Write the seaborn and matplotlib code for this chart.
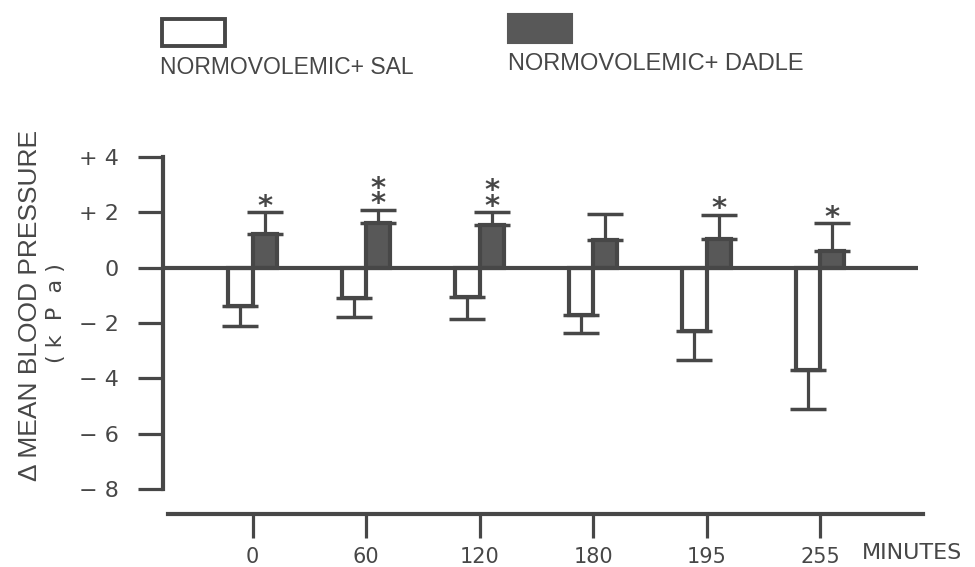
import numpy as np
import pandas as pd
import matplotlib
matplotlib.use("Agg")
import matplotlib.pyplot as plt
import matplotlib.patches as mpatches
import seaborn as sns

# --- data -------------------------------------------------------------
times = ["0", "60", "120", "180", "195", "255"]
groups = ["NORMOVOLEMIC+ SAL", "NORMOVOLEMIC+ DADLE"]

sal_mean = [-1.4, -1.1, -1.05, -1.7, -2.3, -3.7]
sal_sem = [0.7, 0.7, 0.8, 0.65, 1.05, 1.4]
dadle_mean = [1.2, 1.6, 1.55, 1.0, 1.05, 0.6]
dadle_sem = [0.8, 0.5, 0.45, 0.95, 0.85, 1.0]
n_stars = [1, 2, 2, 0, 1, 1]   # significance marks above the DADLE bars

y_ticks = [-8, -6, -4, -2, 0, 2, 4]
y_tick_labels = ["\u2212 8", "\u2212 6", "\u2212 4", "\u2212 2", "0", "+ 2", "+ 4"]
y_label = "\u0394 MEAN BLOOD PRESSURE"
y_unit = "( k  P  a )"
x_unit = "MINUTES"

# --- style ------------------------------------------------------------
sns.set_theme(style="white")
plt.rcParams["font.family"] = ["DejaVu Sans"]
INK = "#474747"
FILL = "#585858"
LABEL_FONT = ["Liberation Sans", "DejaVu Sans"]

df = pd.DataFrame({
    "time": times * 2,
    "group": [groups[0]] * len(times) + [groups[1]] * len(times),
    "value": sal_mean + dadle_mean,
})

fig = plt.figure(figsize=(9.75, 5.67), dpi=100)
ax = fig.add_axes([163 / 975, 1 - 489 / 567, (923 - 163) / 975, 332 / 567])

sns.barplot(data=df, x="time", y="value", hue="group", order=times,
            hue_order=groups, palette={groups[0]: "white", groups[1]: FILL},
            saturation=1, width=0.43, gap=0, errorbar=None, legend=False,
            edgecolor=INK, linewidth=3, ax=ax, zorder=3)

# one-sided error bars: SAL downward, DADLE upward
def bar_centers(container):
    return [p.get_x() + p.get_width() / 2 for p in container.patches]

x_sal = bar_centers(ax.containers[0])
x_dad = bar_centers(ax.containers[1])
eb_kw = dict(fmt="none", ecolor=INK, elinewidth=2.3, capsize=13, capthick=2.5, zorder=2)
ax.errorbar(x_sal, sal_mean, yerr=[sal_sem, np.zeros(len(times))], **eb_kw)
ax.errorbar(x_dad, dadle_mean, yerr=[np.zeros(len(times)), dadle_sem], **eb_kw)

# significance asterisks (stacked in one text when there are two)
for xc, m, e, k in zip(x_dad, dadle_mean, dadle_sem, n_stars):
    if k == 0:
        continue
    ax.annotate("\n".join(["*"] * k), xy=(xc, m + e), xytext=(0, -6),
                textcoords="offset points", ha="center", va="bottom",
                fontsize=21, fontweight="bold", linespacing=0.42,
                color=INK, zorder=4)

# axes limits and zero line
x_left = (163 - 252.5) / 113.5
x_right = (923 - 252.5) / 113.5
ax.set_xlim(x_left, x_right)
ax.set_ylim(-8, 4)
ax.hlines(0, x_left, (918 - 252.5) / 113.5, color=INK, lw=3, zorder=4)

for s in ["top", "right"]:
    ax.spines[s].set_visible(False)
ax.spines["left"].set_color(INK)
ax.spines["left"].set_linewidth(3)
ax.spines["bottom"].set_color(INK)
ax.spines["bottom"].set_linewidth(3)
ax.spines["bottom"].set_position(("outward", 18))
ax.spines["bottom"].set_bounds((168 - 252.5) / 113.5, x_right)

ax.set_yticks(y_ticks)
ax.set_yticklabels(y_tick_labels, fontsize=16, color=INK)
ax.set_xticks(range(len(times)))
ax.set_xticklabels(times, fontsize=15, color=INK)
ax.tick_params(axis="y", direction="out", length=18, width=2.3, color=INK, pad=14, left=True)
ax.tick_params(axis="x", direction="out", length=17, width=2.3, color=INK, pad=7, bottom=True)
ax.set_xlabel("")
ax.set_ylabel("")

ax.annotate(x_unit, xy=(len(times) - 1, 0), xycoords=("data", "axes fraction"),
            xytext=(30, -46), textcoords="offset points", ha="left", va="center",
            fontsize=16, color=INK)

# axis title, two lines
fig.text(30 / 975, 1 - 305 / 567, y_label, rotation=90, ha="center", va="center",
         fontsize=19, color=INK, family=LABEL_FONT)
fig.text(56 / 975, 1 - 313 / 567, y_unit, rotation=90, ha="center", va="center",
         fontsize=16, color=INK)

# legend: swatch above its label
fig.add_artist(mpatches.Rectangle((162 / 975, 1 - 46 / 567), 63 / 975, 27 / 567,
                                  transform=fig.transFigure, facecolor="white",
                                  edgecolor=INK, linewidth=2.8))
fig.add_artist(mpatches.Rectangle((508 / 975, 1 - 43 / 567), 64 / 975, 29 / 567,
                                  transform=fig.transFigure, facecolor=FILL,
                                  edgecolor=FILL, linewidth=1.5))
fig.text(160 / 975, 1 - 67 / 567, groups[0], ha="left", va="center",
         fontsize=16.5, color=INK, family=LABEL_FONT)
fig.text(508 / 975, 1 - 64 / 567, groups[1], ha="left", va="center",
         fontsize=17, color=INK, family=LABEL_FONT)

fig.savefig("out.png", dpi=100, facecolor="white")
